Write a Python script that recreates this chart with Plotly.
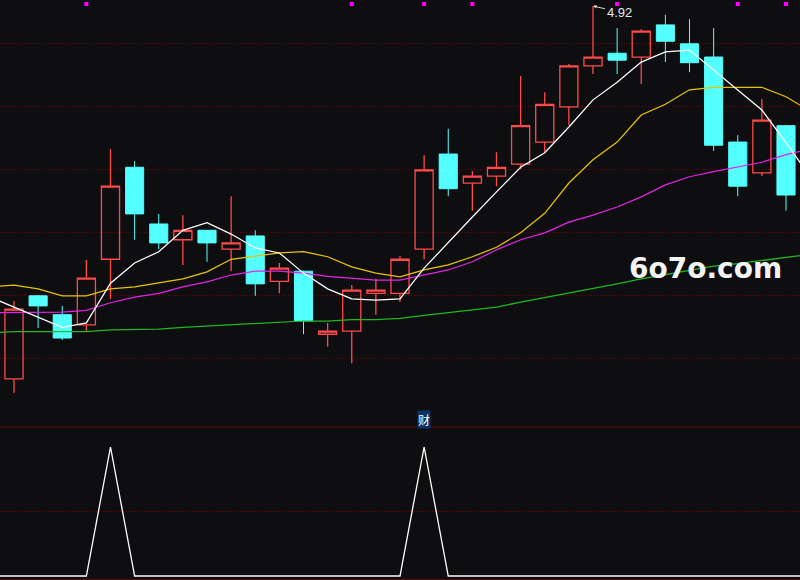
import plotly.graph_objects as go

# ---------------- data ----------------
days = list(range(33))
opens = [4.328, 4.460, 4.430, 4.414, 4.518, 4.664, 4.574, 4.549, 4.564, 4.534,
         4.555, 4.483, 4.499, 4.399, 4.404, 4.464, 4.464, 4.534, 4.685, 4.639,
         4.650, 4.669, 4.704, 4.760, 4.825, 4.845, 4.839, 4.890, 4.860, 4.839,
         4.704, 4.655, 4.730]
highs = [4.452, 4.461, 4.444, 4.517, 4.693, 4.674, 4.590, 4.588, 4.564, 4.618,
         4.564, 4.512, 4.500, 4.417, 4.477, 4.487, 4.523, 4.683, 4.725, 4.658,
         4.688, 4.809, 4.783, 4.828, 4.920, 4.885, 4.883, 4.906, 4.899, 4.885,
         4.715, 4.772, 4.730]
lows = [4.306, 4.409, 4.390, 4.404, 4.455, 4.549, 4.534, 4.509, 4.514, 4.499,
        4.460, 4.464, 4.399, 4.379, 4.353, 4.430, 4.450, 4.518, 4.618, 4.595,
        4.634, 4.661, 4.687, 4.731, 4.812, 4.812, 4.796, 4.831, 4.815, 4.690,
        4.618, 4.650, 4.595]
closes = [4.439, 4.444, 4.393, 4.488, 4.634, 4.590, 4.544, 4.564, 4.544, 4.544,
          4.479, 4.504, 4.420, 4.404, 4.469, 4.469, 4.518, 4.660, 4.630, 4.650,
          4.664, 4.730, 4.764, 4.825, 4.839, 4.834, 4.880, 4.864, 4.830, 4.699,
          4.634, 4.739, 4.620]

# moving averages (one day before and after the visible window included)
ma_days = list(range(-1, 34))
ma5 = [4.458, 4.442, 4.426, 4.410, 4.417, 4.480, 4.512, 4.530, 4.564, 4.576,
       4.558, 4.536, 4.528, 4.496, 4.471, 4.455, 4.453, 4.455, 4.504, 4.545,
       4.585, 4.625, 4.664, 4.687, 4.728, 4.771, 4.799, 4.831, 4.847, 4.850,
       4.818, 4.787, 4.755, 4.703, 4.649]
ma10 = [4.474, 4.477, 4.471, 4.460, 4.460, 4.471, 4.474, 4.480, 4.487, 4.498,
        4.518, 4.523, 4.528, 4.530, 4.522, 4.506, 4.496, 4.490, 4.501, 4.509,
        4.522, 4.537, 4.560, 4.591, 4.639, 4.676, 4.704, 4.747, 4.764, 4.787,
        4.791, 4.791, 4.791, 4.776, 4.753]
ma20 = [4.433, 4.433, 4.434, 4.434, 4.437, 4.449, 4.458, 4.464, 4.474, 4.482,
        4.493, 4.499, 4.499, 4.496, 4.491, 4.488, 4.485, 4.485, 4.493, 4.501,
        4.514, 4.533, 4.549, 4.560, 4.577, 4.588, 4.601, 4.617, 4.636, 4.649,
        4.657, 4.664, 4.672, 4.684, 4.693]
ma60 = [4.401, 4.403, 4.403, 4.403, 4.403, 4.406, 4.407, 4.407, 4.410, 4.412,
        4.415, 4.417, 4.418, 4.420, 4.420, 4.422, 4.422, 4.424, 4.429, 4.433,
        4.438, 4.442, 4.450, 4.457, 4.465, 4.472, 4.479, 4.487, 4.494, 4.501,
        4.507, 4.511, 4.516, 4.521, 4.526]

# lower indicator "财"
signal = [0, 0, 0, 0, 0, 1, 0, 0, 0, 0,
          0, 0, 0, 0, 0, 0, 0, 0, 1, 0,
          0, 0, 0, 0, 0, 0, 0, 0, 0, 0,
          0, 0, 0, 0, 0]
signal_label = "财"
signal_label_day = 17

# top markers
mark_days = [3, 14, 17, 19, 25, 30, 32]

# price grid levels
grid_prices = [4.86, 4.76, 4.66, 4.56, 4.46, 4.36]
lower_grid = [0.5]

watermark = "6o7o.com"

# ---------------- styling ----------------
BG = "#0e0e11"
UP = "#ff4a4a"
DOWN = "#54ffff"
GRID = "#800000"
SOLID = "#5e0808"
DOTS = "1px,2px"

W, H = 800, 580
main_bottom_px = 427
split = (H - main_bottom_px) / H
price_per_px = 1 / 630.0
y_top = 4.92 + 6 * price_per_px
y_bot = 4.92 - (main_bottom_px - 6) * price_per_px
x_range = [-0.5803, 32.5803]

fig = go.Figure()

fig.add_trace(go.Candlestick(
    x=days, open=opens, high=highs, low=lows, close=closes,
    increasing=dict(line=dict(color=UP, width=1.3), fillcolor="rgba(0,0,0,0)"),
    decreasing=dict(line=dict(color=DOWN, width=1), fillcolor=DOWN),
    whiskerwidth=0, xaxis="x", yaxis="y", showlegend=False, hoverinfo="skip",
))

for vals, col in [(ma60, "#1fb81f"), (ma20, "#e424e4"), (ma10, "#e8c400"), (ma5, "#ffffff")]:
    fig.add_trace(go.Scatter(x=ma_days, y=vals, mode="lines",
                             line=dict(color=col, width=1.25),
                             xaxis="x", yaxis="y", showlegend=False, hoverinfo="skip"))

fig.add_trace(go.Scatter(x=mark_days, y=[y_top - 4 * price_per_px] * len(mark_days),
                         mode="markers",
                         marker=dict(symbol="square", size=4, color="#ff00ff", line=dict(width=0)),
                         xaxis="x", yaxis="y", showlegend=False, hoverinfo="skip",
                         cliponaxis=False))

fig.add_trace(go.Scatter(x=ma_days, y=signal, mode="lines",
                         line=dict(color="#ffffff", width=1.3),
                         xaxis="x2", yaxis="y2", showlegend=False, hoverinfo="skip"))

hi = max(highs)
hi_day = days[highs.index(hi)]
annotations = [
    dict(x=hi_day, y=hi, xref="x", yref="y", text=f"{hi:.2f}",
         showarrow=True, arrowhead=2, arrowsize=0.7, arrowwidth=1,
         arrowcolor="#d8d8d8", ax=26, ay=6,
         font=dict(family="Liberation Sans", size=13, color="#e8e8e8")),
    dict(x=705.5 / W, y=(H - 268.5) / H, xref="paper", yref="paper",
         xanchor="center", yanchor="middle",
         text=watermark, showarrow=False,
         font=dict(family="DejaVu Sans", size=28, color="#f4f4f4", weight="bold")),
    dict(x=signal_label_day, y=(H - 419.5) / H, xref="x2", yref="paper",
         xanchor="center", yanchor="middle",
         text=signal_label, showarrow=False, bgcolor="#0a3466", borderpad=0,
         font=dict(family="Noto Sans CJK SC", size=12, color="#ffffff")),
]

shapes = [
    dict(type="line", xref="paper", yref="paper", x0=0, x1=1,
         y0=split, y1=split, line=dict(color=SOLID, width=1)),
    dict(type="line", xref="paper", yref="paper", x0=0, x1=1,
         y0=0.5 / H, y1=0.5 / H, line=dict(color=SOLID, width=1)),
]

fig.update_layout(
    width=W, height=H,
    margin=dict(l=0, r=0, t=0, b=0),
    paper_bgcolor=BG, plot_bgcolor=BG,
    boxgap=0.25, boxgroupgap=0,
    showlegend=False,
    annotations=annotations,
    shapes=shapes,
    xaxis=dict(domain=[0, 1], range=x_range, anchor="y", visible=False,
               rangeslider=dict(visible=False), fixedrange=True),
    xaxis2=dict(domain=[0, 1], range=x_range, anchor="y2", matches="x",
                visible=False, fixedrange=True),
    yaxis=dict(domain=[split, 1], range=[y_bot, y_top], tickvals=grid_prices,
               showticklabels=False, showgrid=True, gridcolor=GRID, griddash=DOTS,
               gridwidth=1, zeroline=False, showline=False, fixedrange=True),
    yaxis2=dict(domain=[0, split], range=[-0.031, 1.155], tickvals=lower_grid,
                showticklabels=False, showgrid=True, gridcolor=GRID, griddash=DOTS,
                gridwidth=1, zeroline=False, showline=False, fixedrange=True),
)

fig.write_html(
    "out.html",
    config=dict(displayModeBar=False),
    post_script="document.body.style.margin='0';document.body.style.overflow='hidden';"
                "document.body.style.background='" + BG + "';",
)
